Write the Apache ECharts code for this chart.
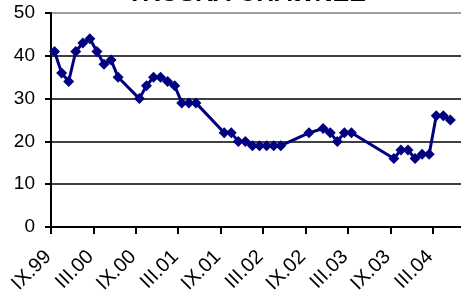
<!DOCTYPE html>
<html>
<head>
<meta charset="utf-8">
<script src="https://cdn.jsdelivr.net/npm/echarts@6/dist/echarts.min.js"></script>
<style>
  html, body { margin: 0; padding: 0; background: #fff; }
  #chart { width: 461px; height: 297px; }
</style>
</head>
<body>
<div id="chart"></div>
<script>
// monthly observations (missing months are gaps in the source)
const months = [
  '1999-09', '1999-10', '1999-11', '1999-12', '2000-01', '2000-02', '2000-03', '2000-04', '2000-05', '2000-06',
  '2000-09', '2000-10', '2000-11', '2000-12', '2001-01', '2001-02', '2001-03', '2001-04', '2001-05',
  '2001-09', '2001-10', '2001-11', '2001-12', '2002-01', '2002-02', '2002-03', '2002-04', '2002-05',
  '2002-09', '2002-11', '2002-12', '2003-01', '2003-02', '2003-03',
  '2003-09', '2003-10', '2003-11', '2003-12', '2004-01', '2004-02', '2004-03', '2004-04', '2004-05'
]
const values = [
  41, 36, 34, 41, 43, 44, 41, 38, 39, 35,
  30, 33, 35, 35, 34, 33, 29, 29, 29,
  22, 22, 20, 20, 19, 19, 19, 19, 19,
  22, 23, 22, 20, 22, 22,
  16, 18, 18, 16, 17, 17, 26, 26, 25
]
const tickLabels = ['IX.99', 'III.00', 'IX.00', 'III.01', 'IX.01', 'III.02', 'IX.02', 'III.03', 'IX.03', 'III.04']
const yTicks = [0, 10, 20, 30, 40, 50]

// months since IX.99, point sits in the middle of its month
function monthOffset(s) {
  const [y, m] = s.split('-').map(Number)
  return (y - 1999) * 12 + (m - 9) + 0.5
}

const chart = echarts.init(document.getElementById('chart'))
const font = 'Liberation Sans, Arial, sans-serif'

chart.setOption({
  animation: false,
  title: {
    text: 'TRUSKA CHAWNEE',
    left: 127,
    top: -18,
    padding: 0,
    textStyle: { fontFamily: font, fontSize: 25, fontWeight: 'bold', color: '#000' }
  },
  grid: { left: 51, top: 13, right: -10, bottom: 70, containLabel: false },
  xAxis: {
    type: 'value',
    min: 0,
    max: 58,
    interval: 6,
    axisLine: { show: true, onZero: false, lineStyle: { color: '#000', width: 2 } },
    axisTick: { show: true, length: 7, lineStyle: { color: '#000', width: 2 } },
    splitLine: { show: false },
    axisLabel: {
      rotate: 45,
      margin: 24,
      padding: [0, 4, 0, 0],
      fontFamily: font,
      fontSize: 20,
      color: '#000',
      showMaxLabel: false,
      formatter: function (v) {
        return v % 6 === 0 ? (tickLabels[v / 6] || '') : ''
      }
    }
  },
  yAxis: {
    type: 'value',
    min: yTicks[0],
    max: yTicks[yTicks.length - 1],
    interval: 10,
    axisLine: { show: true, lineStyle: { color: '#000', width: 2 } },
    axisTick: { show: true, length: 6, lineStyle: { color: '#000', width: 2 } },
    splitLine: {
      show: true,
      lineStyle: { color: ['#000', '#000', '#000', '#000', '#000', '#808080'], width: 1.5 }
    },
    axisLabel: { margin: 16, fontFamily: font, fontSize: 19, color: '#000' }
  },
  series: [
    {
      type: 'line',
      data: months.map((m, i) => [monthOffset(m), values[i]]),
      symbol: 'diamond',
      symbolSize: 11,
      lineStyle: { color: '#000080', width: 3 },
      itemStyle: { color: '#000080' }
    }
  ]
})
</script>
</body>
</html>
